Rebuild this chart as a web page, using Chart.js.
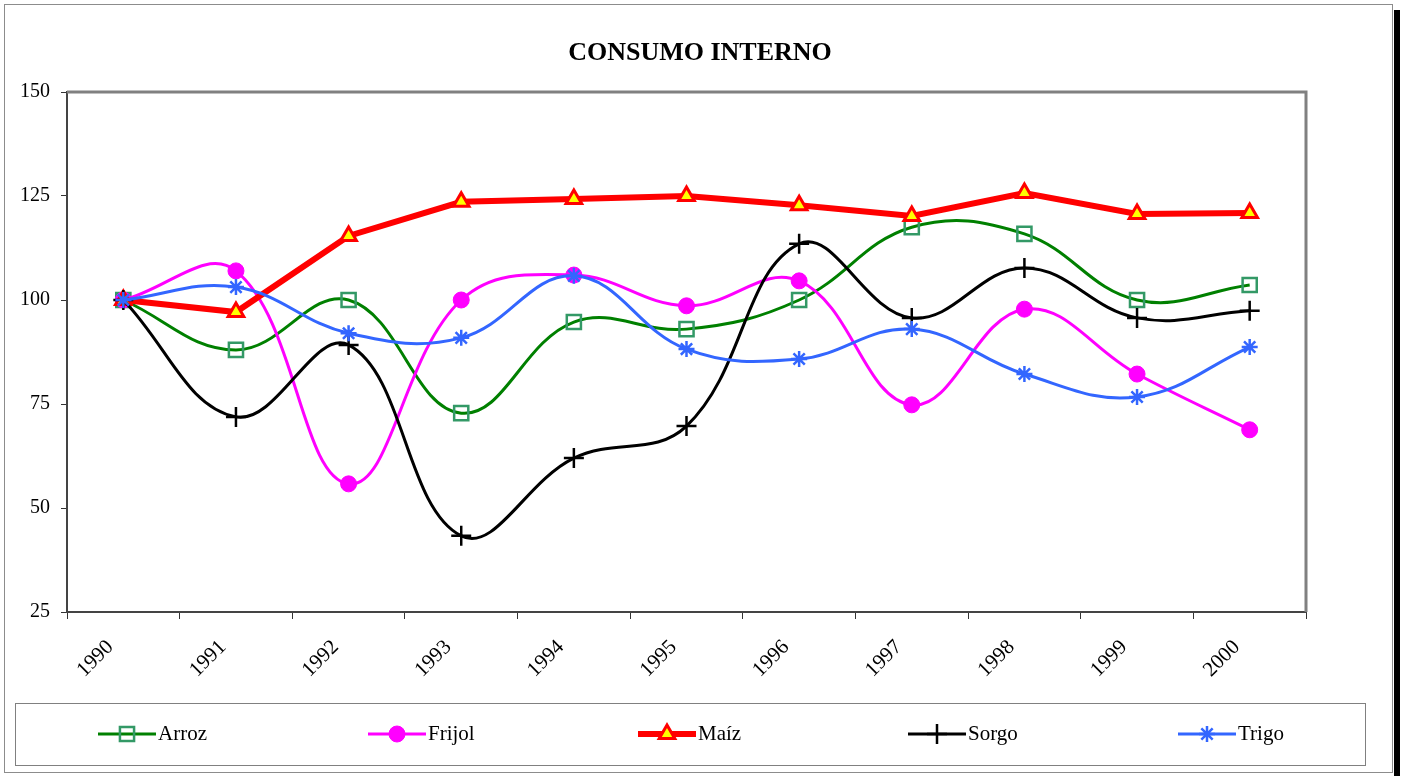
<!DOCTYPE html>
<html>
<head>
<meta charset="utf-8">
<script src="https://cdn.jsdelivr.net/npm/chart.js@4.4.0/dist/chart.umd.min.js"></script>
<style>
  html, body { margin: 0; padding: 0; background: #fff; }
  canvas { display: block; }
</style>
</head>
<body>
<canvas id="chart" width="1404" height="776"></canvas>
<script>
// Data (index, 1990 = 100)
const years = ['1990', '1991', '1992', '1993', '1994', '1995', '1996', '1997', '1998', '1999', '2000'];
const arroz  = [100, 88.0, 100, 72.8, 94.7, 93.0, 100, 117.5, 115.9, 100, 103.6];
const frijol = [100, 107.0, 55.8, 100, 106.0, 98.6, 104.6, 74.8, 97.8, 82.2, 68.8];
const maiz   = [100, 97.1, 115.4, 123.6, 124.3, 125.0, 122.8, 120.2, 125.7, 120.7, 120.9];
const sorgo  = [100, 71.9, 89.2, 43.3, 62.0, 69.7, 113.5, 95.7, 107.7, 95.7, 97.4];
const trigo  = [100, 103.1, 92.0, 90.9, 105.8, 88.2, 85.8, 93.0, 82.2, 76.7, 88.7];

const TITLE = 'CONSUMO INTERNO';
const SERIF = "'Liberation Serif', 'Times New Roman', serif";

// Frame, title, plot border and bottom legend
const framePlugin = {
    id: 'frame',
    beforeDraw(chart) {
        const ctx = chart.ctx;
        ctx.save();
        ctx.fillStyle = '#fff';
        ctx.fillRect(0, 0, chart.width, chart.height);
        ctx.strokeStyle = '#8c8c8c';
        ctx.lineWidth = 1;
        ctx.strokeRect(4.5, 4.5, 1388, 768);
        ctx.fillStyle = '#000';
        ctx.fillRect(1394, 10, 6, 766);
        // title, centred on the page like the original
        ctx.font = 'bold 26px ' + SERIF;
        ctx.textAlign = 'center';
        ctx.textBaseline = 'middle';
        ctx.fillText(TITLE, 700, 53);
        ctx.restore();
    },
    beforeDatasetsDraw(chart) {
        const { ctx, chartArea: a } = chart;
        ctx.save();
        ctx.strokeStyle = '#808080';
        ctx.lineWidth = 3;
        ctx.beginPath();
        ctx.moveTo(a.left, a.top);
        ctx.lineTo(a.right, a.top);
        ctx.lineTo(a.right, a.bottom);
        ctx.stroke();
        ctx.restore();
    },
    afterDraw(chart) {
        const ctx = chart.ctx;
        ctx.save();
        ctx.strokeStyle = '#808080';
        ctx.lineWidth = 1;
        ctx.strokeRect(15.5, 703.5, 1350, 62);
        const y = 734;
        chart.data.datasets.forEach((ds, i) => {
            const x = 98 + i * 270;
            ctx.strokeStyle = ds.borderColor;
            ctx.lineWidth = ds.borderWidth;
            ctx.beginPath();
            ctx.moveTo(x, y);
            ctx.lineTo(x + 58, y);
            ctx.stroke();
            ctx.strokeStyle = ds.pointBorderColor;
            ctx.fillStyle = ds.pointBackgroundColor;
            ctx.lineWidth = ds.pointBorderWidth;
            Chart.helpers.drawPoint(ctx, {
                pointStyle: ds.pointStyle,
                radius: ds.pointRadius,
                borderWidth: ds.pointBorderWidth,
                rotation: 0
            }, x + 29, y);
            ctx.fillStyle = '#000';
            ctx.font = '21px ' + SERIF;
            ctx.textBaseline = 'middle';
            ctx.textAlign = 'left';
            ctx.fillText(ds.label, x + 60, y);
        });
        ctx.restore();
    }
};

const ctx = document.getElementById('chart').getContext('2d');
new Chart(ctx, {
    type: 'line',
    data: {
        labels: years,
        datasets: [
            {
                label: 'Arroz',
                data: arroz,
                borderColor: '#008000',
                borderWidth: 3,
                tension: 0.4,
                pointStyle: 'rect',
                pointRadius: 10,
                pointHoverRadius: 10,
                pointBorderColor: '#339966',
                pointBackgroundColor: 'rgba(0,0,0,0)',
                pointBorderWidth: 2.5,
                order: 5
            },
            {
                label: 'Frijol',
                data: frijol,
                borderColor: '#ff00ff',
                borderWidth: 3,
                tension: 0.4,
                pointStyle: 'circle',
                pointRadius: 8,
                pointHoverRadius: 8,
                pointBorderColor: '#ff00ff',
                pointBackgroundColor: '#ff00ff',
                pointBorderWidth: 1,
                order: 4
            },
            {
                label: 'Maíz',
                data: maiz,
                borderColor: '#ff0000',
                borderWidth: 6,
                tension: 0,
                pointStyle: 'triangle',
                pointRadius: 9,
                pointHoverRadius: 9,
                pointBorderColor: '#ff0000',
                pointBackgroundColor: '#ffff00',
                pointBorderWidth: 3,
                order: 3
            },
            {
                label: 'Sorgo',
                data: sorgo,
                borderColor: '#000000',
                borderWidth: 3,
                tension: 0.4,
                pointStyle: 'cross',
                pointRadius: 10,
                pointHoverRadius: 10,
                pointBorderColor: '#000000',
                pointBackgroundColor: '#000000',
                pointBorderWidth: 2.5,
                order: 2
            },
            {
                label: 'Trigo',
                data: trigo,
                borderColor: '#3366ff',
                borderWidth: 3,
                tension: 0.4,
                pointStyle: 'star',
                pointRadius: 8,
                pointHoverRadius: 8,
                pointBorderColor: '#3366ff',
                pointBackgroundColor: '#3366ff',
                pointBorderWidth: 2.5,
                order: 1
            }
        ]
    },
    options: {
        responsive: false,
        animation: false,
        events: [],
        layout: {
            padding: { left: 10, right: 98, top: 92, bottom: 0 }
        },
        plugins: {
            legend: { display: false },
            tooltip: { enabled: false },
            title: { display: false }
        },
        scales: {
            x: {
                type: 'category',
                offset: true,
                afterFit(scale) { scale.height = 164; },
                grid: {
                    offset: true,
                    drawOnChartArea: false,
                    drawTicks: true,
                    tickLength: 7,
                    color: '#333'
                },
                border: { display: true, color: '#444', width: 2 },
                ticks: {
                    color: '#000',
                    font: { family: SERIF, size: 21 },
                    minRotation: 45,
                    maxRotation: 45,
                    padding: 16,
                    labelOffset: -13
                }
            },
            y: {
                min: 25,
                max: 150,
                afterFit(scale) { scale.width = 57; },
                grid: {
                    drawOnChartArea: false,
                    drawTicks: true,
                    tickLength: 6,
                    color: '#333'
                },
                border: { display: true, color: '#444', width: 2 },
                ticks: {
                    stepSize: 25,
                    color: '#000',
                    font: { family: SERIF, size: 20 },
                    padding: 11
                }
            }
        }
    },
    plugins: [framePlugin]
});
</script>
</body>
</html>
